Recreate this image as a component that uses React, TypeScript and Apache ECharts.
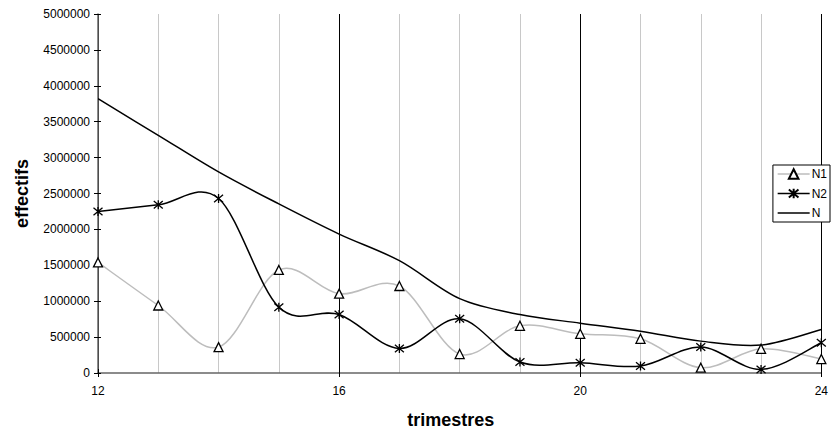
import React, { useEffect, useRef } from "react";
import * as echarts from "echarts";

const trimestres = [12, 13, 14, 15, 16, 17, 18, 19, 20, 21, 22, 23, 24];
const n1Values = [1540000, 940000, 360000, 1435000, 1105000, 1212000, 264000, 657000, 546000, 476000, 74000, 337000, 194000];
const n2Values = [2250000, 2342000, 2430000, 917000, 814000, 342000, 754000, 153000, 143000, 97000, 361000, 50000, 421000];
const nValues = [3820000, 3310000, 2800000, 2355000, 1935000, 1564000, 1035000, 815000, 694000, 583000, 444000, 389000, 606000];
const seriesNames = ["N1", "N2", "N"];
const seriesColors = ["#bdbdbd", "#000000", "#000000"];

const STAR = "path://M0,0 L10,10 M10,0 L0,10 M5,-1 L5,11";
const FONT = "Liberation Sans, Arial, sans-serif";

function pairs(vals: number[]) {
  return trimestres.map((t, i) => [t, vals[i]]);
}

// Excel-like smoothed curve through the points, built from the axis scale coordinates.
function smoothPath(pts: number[][]) {
  const n = pts.length;
  let d = `M${pts[0][0]},${pts[0][1]}`;
  for (let i = 0; i < n - 1; i++) {
    const p0 = pts[Math.max(0, i - 1)];
    const p1 = pts[i];
    const p2 = pts[i + 1];
    const p3 = pts[Math.min(n - 1, i + 2)];
    const c1x = p1[0] + (p2[0] - p0[0]) / 6;
    const c1y = p1[1] + (p2[1] - p0[1]) / 6;
    const c2x = p2[0] - (p3[0] - p1[0]) / 6;
    const c2y = p2[1] - (p3[1] - p1[1]) / 6;
    d += ` C${c1x},${c1y} ${c2x},${c2y} ${p2[0]},${p2[1]}`;
  }
  return d;
}

function curveSeries(name: string, vals: number[], color: string, z: number) {
  return {
    name,
    type: "custom",
    coordinateSystem: "cartesian2d",
    xAxisIndex: 0,
    yAxisIndex: 0,
    data: pairs(vals),
    encode: { x: 0, y: 1 },
    clip: true,
    silent: true,
    z,
    renderItem: (params: any, api: any) => {
      if (params.dataIndex !== 0) return null;
      const pts = trimestres.map((t, i) => api.coord([t, vals[i]]));
      return {
        type: "path",
        shape: { pathData: smoothPath(pts) },
        style: { fill: "none", stroke: color, lineWidth: 1.5 },
      };
    },
  };
}

export default function App() {
  const ref = useRef<HTMLDivElement>(null);
  useEffect(() => {
    if (!ref.current) return;
    const chart = echarts.init(ref.current, undefined, { renderer: "svg" });
    chart.setOption({
      animation: false,
      backgroundColor: "#ffffff",
      textStyle: { fontFamily: FONT },
      grid: { left: 98, top: 14, right: 5, bottom: 60, containLabel: false },
      legend: {
        orient: "vertical",
        right: 1,
        top: 165,
        data: [
          { name: "N1", lineStyle: { color: seriesColors[0], width: 1.5, opacity: 1 } },
          { name: "N2", lineStyle: { color: seriesColors[1], width: 1.5, opacity: 1 } },
          {
            name: "N",
            lineStyle: { color: seriesColors[2], width: 1.5, opacity: 1 },
            itemStyle: { opacity: 0, color: "rgba(0,0,0,0)", borderColor: "rgba(0,0,0,0)" },
          },
        ],
        itemWidth: 32,
        itemHeight: 12,
        itemGap: 7.5,
        padding: [3, 3, 3, 4],
        borderColor: "#000",
        borderWidth: 1,
        backgroundColor: "#fff",
        textStyle: { fontSize: 12, color: "#000", fontFamily: FONT, padding: [0, 0, 0, -3] },
      },
      xAxis: [
        {
          type: "value",
          min: 12,
          max: 24,
          interval: 4,
          name: "trimestres",
          nameLocation: "middle",
          nameGap: 38,
          nameTextStyle: { fontSize: 18, fontWeight: "bold", color: "#000", fontFamily: FONT, padding: [0, 18, 0, 0] },
          axisLine: { show: true, lineStyle: { color: "#666", width: 1.5 } },
          axisTick: { show: true, length: 4, lineStyle: { color: "#000" } },
          axisLabel: { fontSize: 12, color: "#000", margin: 12, fontFamily: FONT },
          splitLine: { show: true, lineStyle: { color: "#000", width: 1 } },
          minorTick: { show: false, splitNumber: 4 },
          minorSplitLine: { show: true, lineStyle: { color: "#c8c8c8", width: 1 } },
        },
        {
          type: "value",
          min: 12,
          max: 24,
          interval: 4,
          position: "bottom",
          axisLine: { show: false },
          axisTick: { show: true, inside: true, length: 4, lineStyle: { color: "#000" } },
          axisLabel: { show: false },
          splitLine: { show: false },
        },
      ],
      yAxis: [
        {
          type: "value",
          min: 0,
          max: 5000000,
          interval: 500000,
          name: "effectifs",
          nameLocation: "middle",
          nameRotate: 90,
          nameGap: 67,
          nameTextStyle: { fontSize: 18, fontWeight: "bold", color: "#000", fontFamily: FONT },
          axisLine: { show: true, lineStyle: { color: "#666", width: 1.5 } },
          axisTick: { show: true, length: 4, lineStyle: { color: "#000" } },
          axisLabel: { fontSize: 12, color: "#000", margin: 8, fontFamily: FONT, formatter: (v: number) => String(v) },
          splitLine: { show: false },
        },
        {
          type: "value",
          min: 0,
          max: 5000000,
          interval: 500000,
          position: "left",
          axisLine: { show: false },
          axisTick: { show: true, inside: true, length: 3, lineStyle: { color: "#000" } },
          axisLabel: { show: false },
          splitLine: { show: false },
        },
      ],
      series: [
        curveSeries("_N1", n1Values, seriesColors[0], 2),
        curveSeries("_N2", n2Values, seriesColors[1], 3),
        curveSeries("_N", nValues, seriesColors[2], 4),
        {
          name: "N1",
          type: "line",
          data: pairs(n1Values),
          symbol: "triangle",
          symbolSize: 9,
          showAllSymbol: true,
          lineStyle: { color: seriesColors[0], width: 1.5, opacity: 0 },
          itemStyle: { color: "#fff", borderColor: "#000", borderWidth: 1.3 },
          z: 5,
        },
        {
          name: "N2",
          type: "line",
          data: pairs(n2Values),
          symbol: STAR,
          symbolSize: 9,
          showAllSymbol: true,
          lineStyle: { color: seriesColors[1], width: 1.5, opacity: 0 },
          itemStyle: { color: "#000", borderColor: "#000", borderWidth: 1.3 },
          z: 6,
        },
        {
          name: "N",
          type: "line",
          data: pairs(nValues),
          symbol: "none",
          lineStyle: { color: seriesColors[2], width: 1.5, opacity: 0 },
          itemStyle: { color: "#000" },
          z: 4,
        },
      ],
    });
    return () => chart.dispose();
  }, []);
  return (
    <div
      ref={ref}
      style={{ position: "absolute", left: 0, top: 0, width: 831, height: 434, background: "#fff" }}
    />
  );
}
